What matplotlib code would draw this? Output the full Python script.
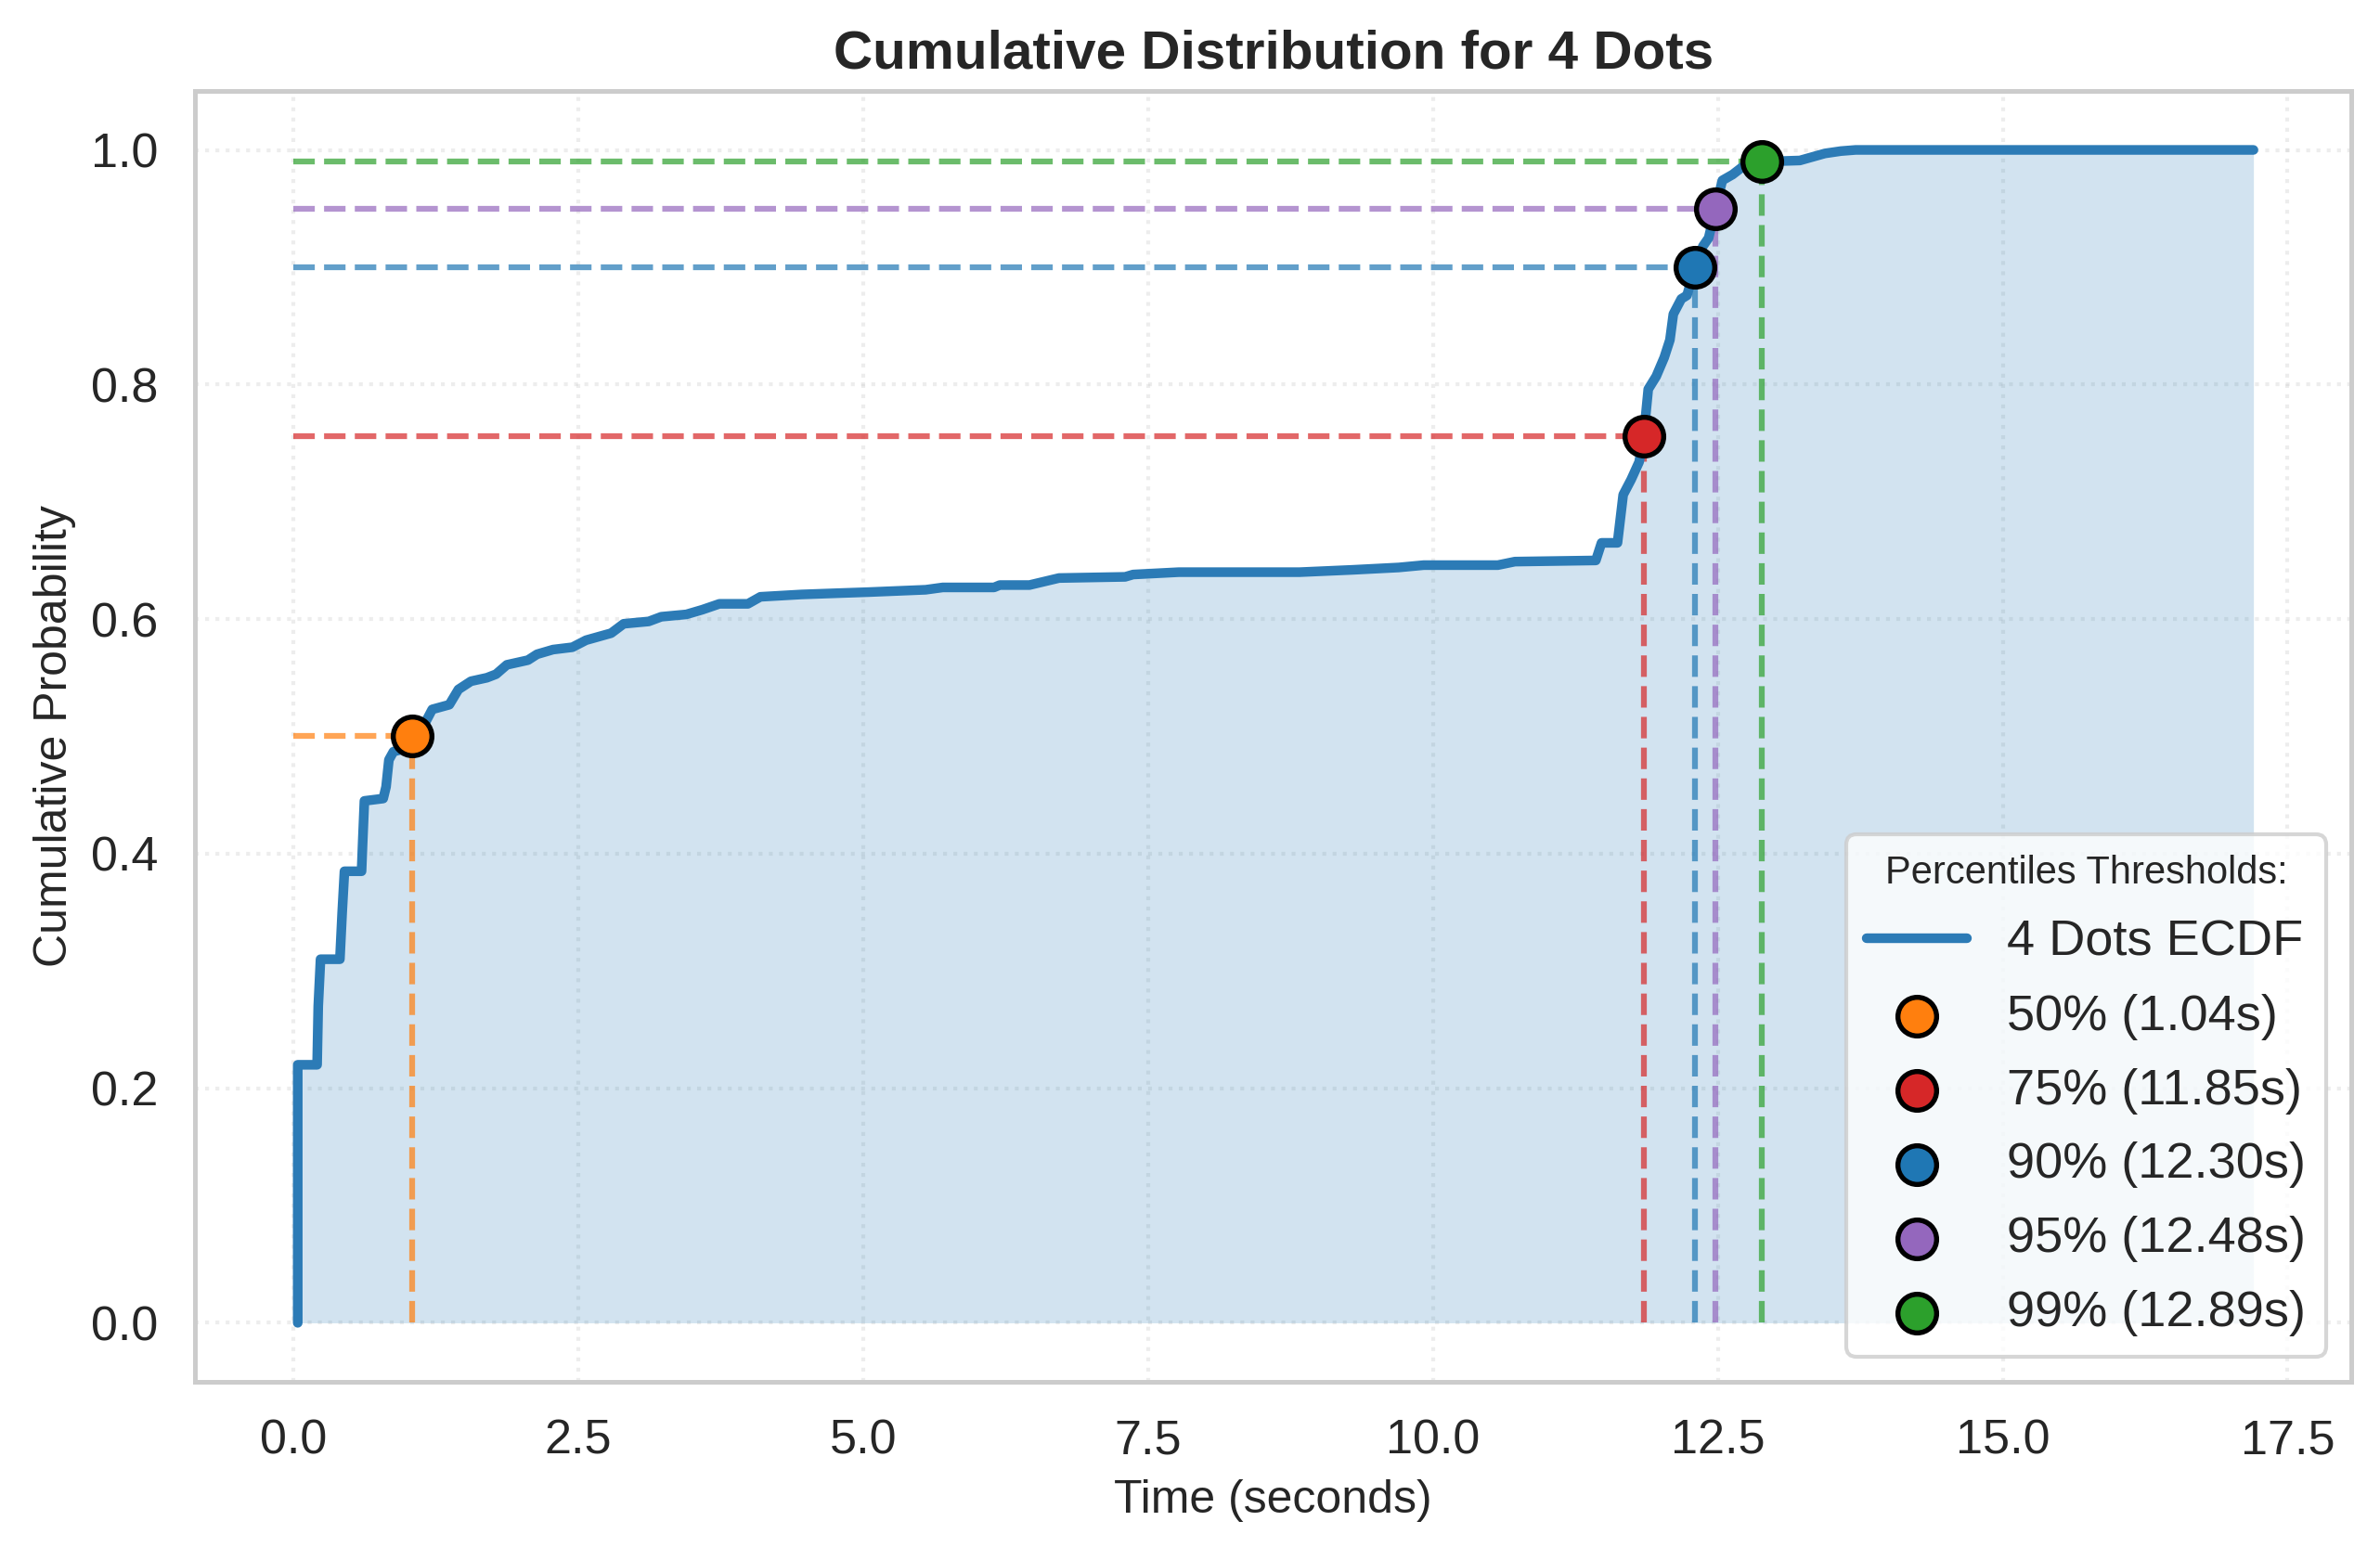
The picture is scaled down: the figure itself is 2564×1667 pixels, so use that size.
"""
ECDF plot for the 4-dots condition with percentile thresholds
"""

import numpy as np
import matplotlib
matplotlib.use('Agg')
import matplotlib.pyplot as plt
import seaborn as sns

# ---------------------------------------------------------------
# data
# ---------------------------------------------------------------
ecdf_time = [0.04, 0.04, 0.21, 0.22, 0.24, 0.41, 0.43, 0.45, 0.60, 0.61,
             0.625, 0.79, 0.815, 0.84, 0.88, 0.96, 1.04, 1.15, 1.22, 1.37,
             1.45, 1.56, 1.70, 1.78, 1.875, 2.06, 2.14, 2.28, 2.45, 2.57,
             2.79, 2.90, 3.12, 3.23, 3.45, 3.59, 3.74, 3.99, 4.10, 4.46,
             4.75, 5.05, 5.55, 5.70, 6.15, 6.20, 6.46, 6.72, 7.30, 7.37,
             7.77, 8.83, 9.30, 9.70, 9.92, 10.57, 10.72, 11.43, 11.48, 11.62,
             11.67, 11.74, 11.81, 11.85, 11.89, 11.96, 12.03, 12.08, 12.11, 12.18,
             12.23, 12.30, 12.37, 12.42, 12.48, 12.54, 12.63, 12.71, 12.79, 12.89,
             13.22, 13.33, 13.44, 13.58, 13.71, 17.20]
ecdf_prob = [0.0, 0.22, 0.22, 0.27, 0.31, 0.31, 0.35, 0.385, 0.385, 0.41,
             0.445, 0.447, 0.457, 0.48, 0.487, 0.489, 0.50, 0.51, 0.523, 0.527,
             0.54, 0.547, 0.550, 0.553, 0.561, 0.565, 0.570, 0.574, 0.576, 0.582,
             0.588, 0.596, 0.598, 0.602, 0.604, 0.608, 0.613, 0.613, 0.619, 0.621,
             0.622, 0.623, 0.625, 0.627, 0.627, 0.629, 0.629, 0.635, 0.636, 0.638,
             0.640, 0.640, 0.642, 0.644, 0.646, 0.646, 0.649, 0.650, 0.665, 0.665,
             0.706, 0.719, 0.734, 0.756, 0.796, 0.807, 0.823, 0.838, 0.860, 0.873,
             0.876, 0.900, 0.918, 0.925, 0.950, 0.974, 0.979, 0.985, 0.989, 0.990,
             0.991, 0.994, 0.997, 0.999, 1.0, 1.0]

pct_levels = [50, 75, 90, 95, 99]
pct_times = [1.04, 11.85, 12.30, 12.48, 12.89]
pct_probs = [0.50, 0.756, 0.90, 0.95, 0.99]
pct_colors = ['#ff7f0e', '#d62728', '#1f77b4', '#9467bd', '#2ca02c']

# ---------------------------------------------------------------
# style
# ---------------------------------------------------------------
sns.set_theme(style='whitegrid')
plt.rcParams['font.family'] = ['Liberation Sans', 'DejaVu Sans']

fig, ax = plt.subplots(figsize=(2564 / 300, 1667 / 300), dpi=300)
fig.subplots_adjust(left=0.082, right=0.988, bottom=0.107, top=0.941)

line_color = '#2c7bb6'

# ECDF + shaded area
ax.plot(ecdf_time, ecdf_prob, color=line_color, linewidth=2.5,
        label='4 Dots ECDF', zorder=3)
ax.fill_between(ecdf_time, ecdf_prob, 0, color='#1f77b4', alpha=0.2,
                linewidth=0, zorder=1)

# percentile guides + markers
for lvl, t, p, c in zip(pct_levels, pct_times, pct_probs, pct_colors):
    ax.hlines(p, 0, t, colors=c, linestyles='--', linewidth=1.5, alpha=0.7, zorder=2)
    ax.vlines(t, 0, p, colors=c, linestyles='--', linewidth=1.5, alpha=0.7, zorder=2)
    ax.scatter([t], [p], s=100, color=c, edgecolor='black', linewidth=1.3,
               zorder=5, label=f'{lvl}% ({t:.2f}s)')

ax.set_title('Cumulative Distribution for 4 Dots', fontsize=14,
             fontweight='bold')
ax.set_xlabel('Time (seconds)', fontsize=12)
ax.set_ylabel('Cumulative Probability', fontsize=12)
ax.tick_params(axis='both', labelsize=12.5)

ax.grid(True, linestyle=':', alpha=0.35)
for sp in ax.spines.values():
    sp.set_color('#cccccc')
    sp.set_linewidth(1.2)

leg = ax.legend(loc='lower right', title='Percentiles Thresholds:',
                fontsize=13, title_fontsize=10, framealpha=0.8,
                labelspacing=0.55)

plt.savefig('out.png', dpi=300)
print('Saved: out.png')
